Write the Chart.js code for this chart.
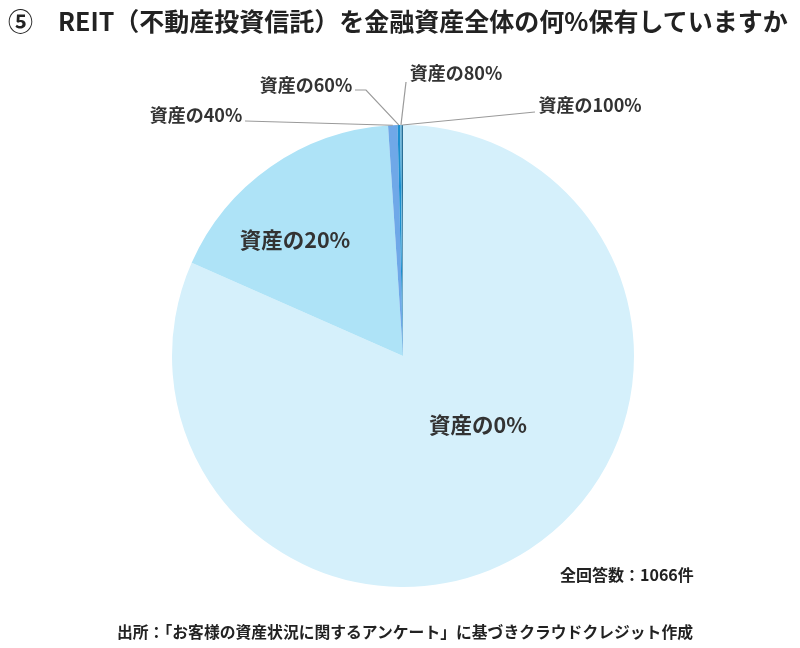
<!DOCTYPE html>
<html>
<head>
<meta charset="utf-8">
<script src="https://cdn.jsdelivr.net/npm/chart.js@4"></script>
<style>
  body { margin: 0; background: #fff; font-family: "Noto Sans CJK JP", "Noto Sans", sans-serif; }
  #wrap { position: relative; width: 800px; height: 648px; }
  #title { position: absolute; left: 8px; top: 2px; font-size: 25px; font-weight: bold; color: #222; white-space: nowrap; }
  #total { position: absolute; left: 560px; top: 562px; font-size: 16px; font-weight: bold; color: #222; }
  #source { position: absolute; left: 0; width: 810px; text-align: center; top: 620px; font-size: 15.8px; font-weight: bold; color: #222; white-space: nowrap; }
</style>
</head>
<body>
<div id="wrap">
  <canvas id="pie" width="800" height="648"></canvas>
  <div id="title">⑤　REIT（不動産投資信託）を金融資産全体の何%保有していますか</div>
  <div id="total">全回答数：1066件</div>
  <div id="source">出所：「お客様の資産状況に関するアンケート」に基づきクラウドクレジット作成</div>
</div>
<script>
var categories = ['資産の0%', '資産の20%', '資産の40%', '資産の60%', '資産の80%', '資産の100%'];
var counts = [870, 185, 7, 2, 1, 1];
var colors = ['#D5F0FB', '#AEE3F7', '#6FA8E8', '#1A8FCF', '#5BB0D9', '#2A6F96'];

// label placement (text centre x, y) - inside labels for big slices, outside with leader lines for small
var labelPos = [
  { x: 478, y: 425, inside: true },
  { x: 295, y: 240, inside: true },
  { x: 196, y: 115, tx: 245, ty: 121 },
  { x: 306, y: 85, tx: 355, ty: 90, elbow: 366 },
  { x: 456, y: 73, tx: 406, ty: 82 },
  { x: 590, y: 105, tx: 535, ty: 112 }
];

var labelPlugin = {
  id: 'sliceLabels',
  afterDatasetsDraw: function (chart) {
    var ctx = chart.ctx;
    var arcs = chart.getDatasetMeta(0).data;
    ctx.save();
    ctx.textAlign = 'center';
    ctx.textBaseline = 'middle';
    ctx.fillStyle = '#333';
    for (var i = 0; i < arcs.length; i++) {
      var p = arcs[i].getProps(['x', 'y', 'startAngle', 'endAngle', 'outerRadius'], true);
      var lp = labelPos[i];
      if (lp.inside) {
        ctx.font = 'bold 21.5px "Noto Sans CJK JP"';
        ctx.fillText(categories[i], lp.x, lp.y);
        continue;
      }
      var mid = (p.startAngle + p.endAngle) / 2;
      var ax = p.x + Math.cos(mid) * p.outerRadius;
      var ay = p.y + Math.sin(mid) * p.outerRadius;
      ctx.strokeStyle = '#9a9a9a';
      ctx.lineWidth = 1.2;
      ctx.beginPath();
      ctx.moveTo(lp.tx, lp.ty);
      if (lp.elbow) ctx.lineTo(lp.elbow, lp.ty);
      ctx.lineTo(ax, ay);
      ctx.stroke();
      ctx.font = 'bold 18px "Noto Sans CJK JP"';
      ctx.fillText(categories[i], lp.x, lp.y);
    }
    ctx.restore();
  }
};

new Chart(document.getElementById('pie'), {
  type: 'pie',
  data: {
    labels: categories,
    datasets: [{
      data: counts,
      backgroundColor: colors,
      borderWidth: 0
    }]
  },
  options: {
    responsive: false,
    animation: false,
    layout: { padding: { left: 172, right: 166, top: 125, bottom: 61 } },
    plugins: {
      legend: { display: false },
      tooltip: { enabled: false }
    }
  },
  plugins: [labelPlugin]
});
</script>
</body>
</html>
